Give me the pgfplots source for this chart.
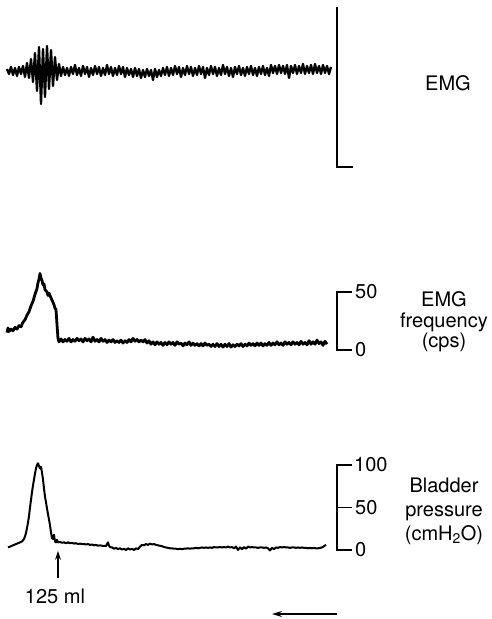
\documentclass[border=0pt]{standalone}
\usepackage{fontspec}
\setmainfont{TeX Gyre Heros}
\usepackage{pgfplots}
\pgfplotsset{compat=1.18}
\usetikzlibrary{arrows.meta}

\pgfplotsset{
  trace/.style={axis lines=none, scale only axis, clip=false, anchor=south west,
    xmin=7, xmax=337, width=330pt},
}
\tikzset{
  scalebar/.style={line width=1.3pt, black},
  lbl/.style={font=\fontsize{20}{21}\selectfont, inner sep=0pt},
}

\begin{document}
\begin{tikzpicture}
\path[use as bounding box] (0,0) rectangle (491pt,619pt);

% EMG
\begin{axis}[trace, at={(7pt,452pt)}, height=160pt, ymin=-96, ymax=64]
\addplot[black, line width=2.3pt, line join=round] coordinates {
(7,2) (9,-3) (11,4) (13,-4) (15,3) (17,-5) (19,4) (21,-3) (23,5) (25,-6)
(27,8) (29,-7) (31,12) (33,-11) (35,18) (37,-20) (39,24) (41,-33) (43,22) (45,-26)
(47,25) (49,-18) (51,21) (53,-15) (55,14) (57,-9) (59,7) (61,-5) (63,4) (65,-4)
(67,3) (69,-5) (71,4) (73,-3) (75,6) (77,-4) (79,3) (81,-5) (83,5) (85,-3)
(87,4) (89,-6) (91,3) (93,-4) (95,5) (97,-3) (99,4) (101,-5) (103,3) (105,-4)
(107,6) (109,-3) (111,4) (113,-5) (115,3) (117,-4) (119,5) (121,-3) (123,4) (125,-6)
(127,3) (129,-4) (131,2) (133,-6) (135,3) (137,-5) (139,2) (141,-7) (143,1) (145,-6)
(147,2) (149,-5) (151,1) (153,-9) (155,2) (157,-6) (159,1) (161,-5) (163,3) (165,-4)
(167,4) (169,-5) (171,3) (173,-4) (175,5) (177,-3) (179,4) (181,-6) (183,3) (185,-4)
(187,5) (189,-3) (191,4) (193,-5) (195,3) (197,-4) (199,5) (201,-3) (203,4) (205,-7)
(207,3) (209,-4) (211,5) (213,-3) (215,4) (217,-5) (219,3) (221,-4) (223,6) (225,-3)
(227,4) (229,-5) (231,3) (233,-6) (235,4) (237,-3) (239,5) (241,-4) (243,3) (245,-5)
(247,4) (249,-3) (251,5) (253,-4) (255,3) (257,-5) (259,4) (261,-3) (263,5) (265,-4)
(267,3) (269,-5) (271,6) (273,-2) (275,5) (277,-3) (279,6) (281,-2) (283,5) (285,-3)
(287,6) (289,-7) (291,5) (293,-2) (295,6) (297,-3) (299,5) (301,-2) (303,7) (305,-3)
(307,5) (309,-2) (311,6) (313,-3) (315,7) (317,-2) (319,5) (321,-3) (323,6) (325,-2)
(327,5) (329,-3) (331,4)
};
\draw[scalebar] (axis cs:337,64) -- (axis cs:337,-96) -- (axis cs:353,-96);
\node[lbl] at (axis cs:448,-12) {EMG};
\end{axis}

% EMG frequency
\begin{axis}[trace, at={(7pt,269pt)}, height=58pt, ymin=0, ymax=50]
\addplot[black, line width=2.8pt, line join=round] coordinates {
(7,15) (8,19) (9,16) (11,18) (13,16.5) (15,19.5) (17,18) (19,21) (21,20) (23,24)
(25,26) (27,30) (29,33) (31,38) (33,42) (35,48) (37,53) (38,58) (39,61) (40,66)
(41,62) (42,60) (43,56) (44,57) (45,52) (47,50) (48,47) (49,49) (51,45) (53,41)
(54,39) (55,36) (56,35) (57,22) (58,10) (59,7)
(61,9.5) (63,7) (65,9) (67,7.5) (69,10) (71,7) (73,9) (75,7.5) (77,10) (79,8)
(81,9.5) (83,7) (85,10) (87,8) (89,9.5) (91,7) (93,11) (95,7.5) (97,9) (99,7)
(101,10) (103,7.5) (105,9) (107,6.5) (109,8.5) (111,7) (113,9) (115,6.5) (117,8) (119,6.5)
(121,8.5) (123,6) (125,8) (127,6.5) (129,9) (131,7) (133,10) (135,7.5) (137,9) (139,7)
(141,8.5) (143,7) (145,9) (147,6) (149,8) (151,5) (153,7) (155,4.5) (157,7) (159,5)
(161,6.5) (163,4) (165,6.5) (167,4.5) (169,7) (171,5) (173,6.5) (175,4) (177,7) (179,5)
(181,6) (183,3.5) (185,6) (187,4.5) (189,7) (191,4) (193,6) (195,4) (197,5.5) (199,3.5)
(201,5.5) (203,3.5) (205,6) (207,4) (209,5) (211,3) (213,5) (215,3) (217,5.5) (219,3)
(221,5) (223,2.5) (225,5) (227,3) (229,5.5) (231,2.5) (233,4.5) (235,3) (237,5) (239,3.5)
(241,5.5) (243,3) (245,5) (247,3.5) (249,6) (251,4) (253,5.5) (255,3.5) (257,6) (259,4)
(261,6) (263,3.5) (265,5.5) (267,4) (269,6.5) (271,4) (273,6) (275,4.5) (277,7) (279,4.5)
(281,6) (283,4) (285,7) (287,5) (289,6.5) (291,4.5) (293,7) (295,5) (297,6.5) (299,4.5)
(301,7.5) (303,5) (305,6.5) (307,4.5) (309,8) (311,5) (313,7) (315,5) (317,8.5) (319,5.5)
(321,7) (323,4) (325,7.5) (327,5)
};
\draw[scalebar] (axis cs:352,50) -- (axis cs:337,50) -- (axis cs:337,0) -- (axis cs:352,0);
\node[lbl, anchor=west] at (axis cs:355,50) {50};
\node[lbl, anchor=west] at (axis cs:355,0) {0};
\node[lbl, align=center, font=\fontsize{20}{20.5}\selectfont] at (axis cs:444,24) {EMG\\frequency\\(cps)};
\end{axis}

% Bladder pressure
\begin{axis}[trace, at={(7pt,69pt)}, height=85pt, ymin=0, ymax=100]
\addplot[black, line width=2pt, line join=round] coordinates {
(8,3) (10,4) (12,5) (14,6) (16,7) (18,8) (20,9) (22,10) (24,13) (25,16)
(26,20) (27,26) (28,32) (29,40) (30,50) (31,59) (32,68) (33,76) (34,83) (35,90)
(36,96) (37,100) (38,102) (39,99) (40,96) (41,98) (42,91) (43,83) (44,72) (45,63)
(46,56) (47,49) (48,42) (49,36) (50,29) (51,21) (52,14) (53,13) (54,18) (55,10)
(56,9) (57,12) (58,9) (60,9.5) (62,8.5) (64,9) (66,8) (68,9) (70,8) (72,8.5)
(74,7.5) (76,8) (78,7) (80,7.5) (82,7) (84,7) (86,6.5) (88,7) (90,6) (92,6.5)
(94,5.5) (96,6) (98,5) (100,5.5) (102,5) (104,5) (106,4.5) (107,7) (108,9) (109,5)
(110,3.5) (112,3) (114,1.5) (116,2.5) (118,1) (120,2) (122,0.5) (124,1.5) (126,0) (128,2)
(130,0.5) (132,1.5) (134,0) (136,2) (138,1) (140,4) (142,6) (144,5.5) (146,7) (148,6)
(150,7.5) (152,6.5) (154,7) (156,6) (158,5.5) (160,5) (162,4.5) (164,3.5) (166,3) (168,2.5)
(170,2) (172,2) (174,1.5) (176,1.5) (178,1) (180,1.5) (182,1) (184,1.5) (186,1.5) (188,2)
(190,1.5) (192,2) (194,2) (196,2.5) (198,2) (200,2.5) (202,3) (204,2.5) (206,3) (208,2.5)
(210,3) (212,2.5) (214,3.5) (216,3) (218,3) (220,3.5) (222,3) (224,3.5) (226,3) (228,4)
(230,3) (232,3.5) (234,2) (236,4) (238,0) (240,3) (242,1) (244,3.5) (246,1.5) (248,4)
(250,3) (252,3.5) (254,3) (256,3) (258,2.5) (260,3) (262,3) (264,2.5) (266,3) (268,2)
(270,-0.5) (272,2.5) (274,1) (276,3) (278,2.5) (280,3.5) (282,3) (284,3.5) (286,3) (288,3)
(290,2.5) (292,3) (294,3) (296,2.5) (298,3) (300,2.5) (302,3) (304,2.5) (306,2.5) (308,2)
(310,2.5) (312,2) (314,2.5) (316,2) (318,2) (320,2.5) (322,3) (324,4.5) (326,6)
};
\draw[scalebar] (axis cs:352,100) -- (axis cs:337,100) -- (axis cs:337,0) -- (axis cs:352,0);
\draw[scalebar] (axis cs:337,50) -- (axis cs:352,50);
\node[lbl, anchor=west] at (axis cs:354,100) {100};
\node[lbl, anchor=west] at (axis cs:355,50) {50};
\node[lbl, anchor=west] at (axis cs:355,0) {0};
\node[lbl, align=center, font=\fontsize{20}{24}\selectfont] at (axis cs:444,46) {Bladder\\pressure\\(cmH\textsubscript{2}O)};
\draw[line width=1.3pt, -{Stealth[length=9pt,width=6pt]}] (axis cs:58,-33) -- (axis cs:58,-1);
\node[lbl] at (axis cs:55,-55) {125 ml};
\draw[line width=1.3pt, -{Stealth[length=10pt,width=6pt]}] (axis cs:337,-75.3) -- (axis cs:272,-75.3);
\end{axis}
\end{tikzpicture}
\end{document}
